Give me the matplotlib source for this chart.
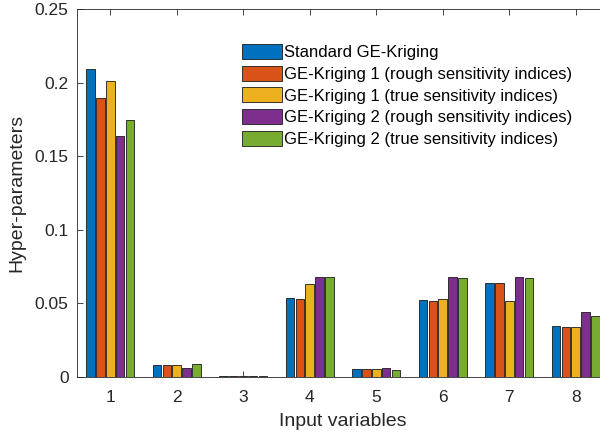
import matplotlib
matplotlib.use("Agg")
import matplotlib.pyplot as plt
import numpy as np

plt.rcParams['font.family'] = ['Liberation Sans', 'DejaVu Sans']

variables = [1, 2, 3, 4, 5, 6, 7, 8]
series_names = [
    "Standard GE-Kriging",
    "GE-Kriging 1 (rough sensitivity indices)",
    "GE-Kriging 1 (true sensitivity indices)",
    "GE-Kriging 2 (rough sensitivity indices)",
    "GE-Kriging 2 (true sensitivity indices)",
]
standard = [0.209, 0.008, 0.001, 0.0537, 0.0054, 0.052, 0.064, 0.0346]
gek1_rough = [0.1895, 0.008, 0.001, 0.053, 0.0054, 0.0516, 0.0636, 0.034]
gek1_true = [0.201, 0.008, 0.001, 0.063, 0.0054, 0.0528, 0.0514, 0.034]
gek2_rough = [0.164, 0.006, 0.001, 0.068, 0.006, 0.068, 0.068, 0.0444]
gek2_true = [0.1746, 0.009, 0.001, 0.068, 0.0045, 0.067, 0.067, 0.0414]
yticks = [0, 0.05, 0.1, 0.15, 0.2, 0.25]
ytick_labels = ["0", "0.05", "0.1", "0.15", "0.2", "0.25"]

colors = ["#0072BD", "#D95319", "#EDB120", "#7E2F8E", "#77AC30"]
series = [standard, gek1_rough, gek1_true, gek2_rough, gek2_true]

fig = plt.figure(figsize=(6, 4.36), dpi=100)
ax = fig.add_axes([77/600, 59/436, 532/600, 368/436])

x = np.array(variables, dtype=float)
slot = 0.15
bw = 0.128
for i, (vals, c, name) in enumerate(zip(series, colors, series_names)):
    ax.bar(x + (i - 2) * slot, vals, width=bw, color=c, edgecolor="#1a1a1a",
           linewidth=0.6, label=name, zorder=2)

ax.set_xlim(0.5, 8.5)
ax.set_ylim(0, 0.25)
ax.set_xticks(variables)
ax.set_xticklabels([str(v) for v in variables])
ax.set_yticks(yticks)
ax.set_yticklabels(ytick_labels)
ax.tick_params(direction="in", top=True, right=True, length=4, width=0.6,
               labelsize=12.5, colors="#262626")
ax.tick_params(axis="x", pad=9)
ax.tick_params(axis="y", pad=6)
for s in ax.spines.values():
    s.set_color("#262626")
    s.set_linewidth(0.6)
    s.set_zorder(3)

ax.set_xlabel("Input variables", fontsize=14, color="#262626", labelpad=6)
ax.set_ylabel("Hyper-parameters", fontsize=14, color="#262626", labelpad=7)

leg = fig.legend(loc="upper left", bbox_to_anchor=(242/600, 1 - 44/436),
                 bbox_transform=fig.transFigure, frameon=False, fontsize=12,
                 handlelength=2.4, handleheight=1.0, labelspacing=0.33,
                 handletextpad=0.15, borderpad=0, borderaxespad=0)

fig.savefig("out.png", dpi=100)
